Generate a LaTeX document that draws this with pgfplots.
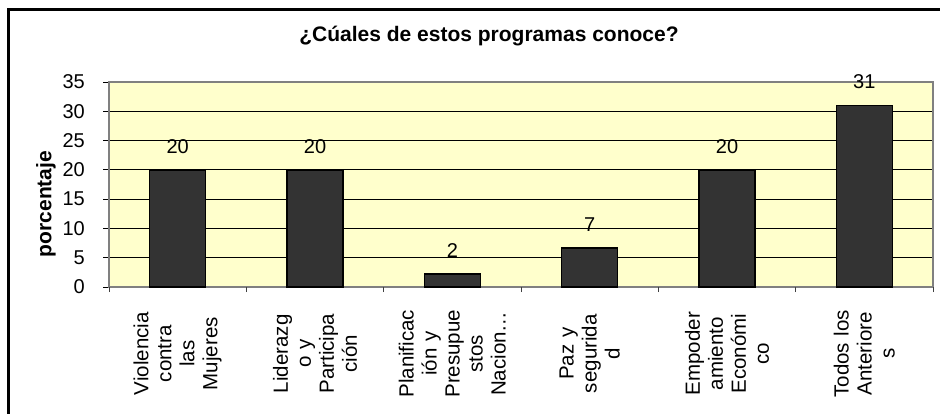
\documentclass[border=0pt]{standalone}
\usepackage{fontspec}
\setmainfont{Liberation Sans}
\usepackage{pgfplots}
\pgfplotsset{compat=1.18}
\definecolor{plotbg}{HTML}{FFFFCC}
\definecolor{bardark}{HTML}{333333}
\definecolor{frameg}{HTML}{808080}
\newcommand{\lbl}{\fontsize{20bp}{23bp}\selectfont}
\newcommand{\xlbl}{\fontsize{20.5bp}{23bp}\selectfont}
\begin{document}
\begin{tikzpicture}[x=1bp,y=1bp]
\useasboundingbox (0,0) rectangle (940,413);
% outer chart frame (cropped on the right and bottom)
\draw[line width=3bp] (8.5,-20) -- (8.5,403.5) -- (960,403.5);
\node[font=\fontsize{21bp}{24bp}\selectfont\bfseries, anchor=base] at (489,372) {¿Cúales de estos programas conoce?};
\begin{axis}[
    at={(109bp,126bp)}, anchor=south west,
    width=824bp, height=205bp, scale only axis,
    xmin=-0.5, xmax=5.5, ymin=0, ymax=35,
    axis background/.style={fill=plotbg},
    axis line style={frameg, line width=1.5bp},
    ybar, bar width=56bp,
    tick align=outside, tick pos=left,
    ytick={0,5,...,35},
    ymajorgrids, grid style={black, line width=0.8bp},
    y tick style={black, line width=0.8bp},
    major tick length=6bp,
    /pgf/number format/assume math mode=true,
    yticklabel style={font=\lbl, inner sep=0pt},
    yticklabel shift=18bp,
    xtick={0,...,5},
    x tick style={draw=none},
    xticklabels={
        {Violencia\\contra\\las\\Mujeres},
        {Liderazg\\o y\\Participa\\ción},
        {Planificac\\ión y\\Presupue\\stos\\Nacion…},
        {Paz y\\segurida\\d},
        {Empoder\\amiento\\Económi\\co},
        {Todos los\\Anteriore\\s}},
    xticklabel style={font=\xlbl, rotate=90, anchor=east, align=center, text width=92bp, inner sep=0pt},
    xticklabel shift=14.5bp,
    extra x ticks={-0.5,0.5,1.5,2.5,3.5,4.5,5.5},
    extra x tick labels={},
    extra x tick style={grid=none, major tick length=5bp, x tick style={draw=black!75, line width=0.8bp}},
    ylabel={porcentaje},
    ylabel style={font=\fontsize{21bp}{24bp}\selectfont\bfseries, at={(rel axis cs:-0.0765,0.405)}, anchor=center},
    point meta=explicit symbolic,
    nodes near coords,
    nodes near coords style={font=\lbl, inner sep=0pt, yshift=15.5bp, black},
]
\addplot[fill=bardark, draw=black, line width=1.5bp] coordinates {
    (0,20) [20]
    (1,20) [20]
    (2,2.2) [2]
    (3,6.7) [7]
    (4,20) [20]
    (5,31) [31]
};
\end{axis}
\end{tikzpicture}
\end{document}
